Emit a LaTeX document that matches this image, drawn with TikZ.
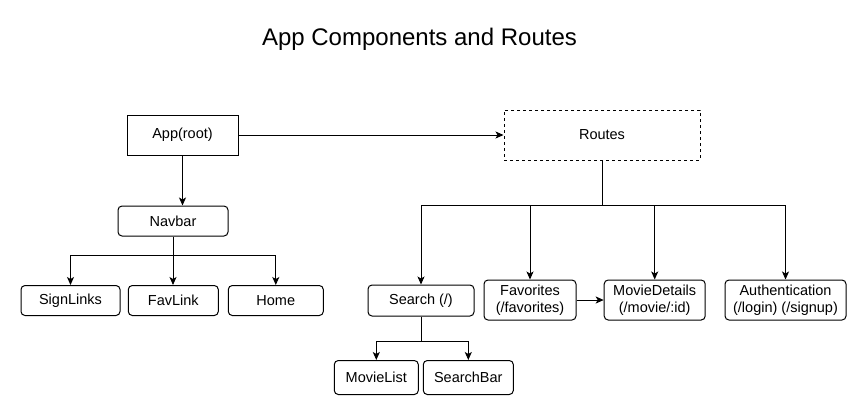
\documentclass[tikz,border=0pt]{standalone}
\usepackage{fontspec}
\setmainfont{Liberation Sans}
\usetikzlibrary{arrows.meta}
\begin{document}
\begin{tikzpicture}[x=1pt,y=-1pt,
  box/.style={draw=black,line width=1pt,inner sep=0pt,align=center,font=\fontsize{14.5}{16.7}\selectfont},
  rbox/.style={box,rounded corners=4pt},
  conn/.style={draw=black,line width=1pt,-{Stealth[length=8pt,width=7pt,inset=2pt]}},
  line/.style={draw=black,line width=1pt}]
\useasboundingbox (0,0) rectangle (866,416);
\fill[white] (0,0) rectangle (866,416);
\node[font=\fontsize{24}{28}\selectfont] (title) at (419.5,39) {App Components and Routes};
\node[box,minimum width=111pt,minimum height=40pt] (app) at (182.5,135) {App(root)};
\node[box,dashed,minimum width=196pt,minimum height=50pt] (routes) at (602,135) {Routes};
\node[rbox,minimum width=110pt,minimum height=30pt] (navbar) at (173,221) {Navbar};
\node[rbox,minimum width=99pt,minimum height=30pt] (signlinks) at (70.5,300.5) {SignLinks};
\node[rbox,minimum width=90pt,minimum height=30pt] (favlink) at (173.3,300.5) {FavLink};
\node[rbox,minimum width=95pt,minimum height=30pt] (home) at (275.8,300.5) {Home};
\node[rbox,minimum width=106pt,minimum height=31pt] (search) at (421,300.5) {Search (/)};
\node[rbox,minimum width=92pt,minimum height=40pt] (fav) at (530,300) {Favorites\\(/favorites)};
\node[rbox,minimum width=101pt,minimum height=40pt] (details) at (654.7,300) {MovieDetails\\(/movie/:id)};
\node[rbox,minimum width=121pt,minimum height=40pt] (auth) at (785.5,300) {Authentication\\(/login) (/signup)};
\node[rbox,minimum width=84pt,minimum height=34pt] (movielist) at (376.3,377.5) {MovieList};
\node[rbox,minimum width=90pt,minimum height=34pt] (searchbar) at (468.3,377.5) {SearchBar};
\coordinate (rj) at (602,205);
\coordinate (nj) at (173,255);
\coordinate (sj) at (421,341);
\draw[conn] (app) -- (routes);
\draw[conn] (app.south) -- (app.south |- navbar.north);
\draw[line] (navbar.south) -- (nj);
\draw[conn] (nj) -| (signlinks.north);
\draw[conn] (nj) -- (favlink.north -| nj);
\draw[conn] (nj) -| (home.north);
\draw[line] (routes.south) -- (rj);
\draw[conn] (rj) -| (search.north);
\draw[conn] (rj) -| (fav.north);
\draw[conn] (rj) -| (details.north);
\draw[conn] (rj) -| (auth.north);
\draw[line] (search.south) -- (sj);
\draw[conn] (sj) -| (movielist.north);
\draw[conn] (sj) -| (searchbar.north);
\draw[conn] (fav) -- (details);
\end{tikzpicture}
\end{document}
